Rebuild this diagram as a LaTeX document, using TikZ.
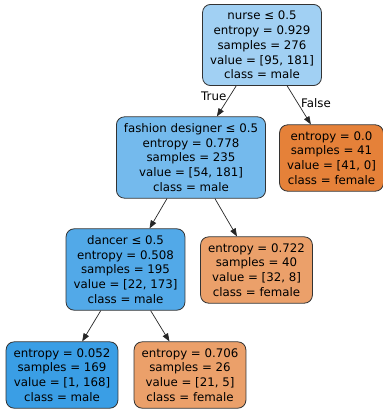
\documentclass[tikz,border=0pt]{standalone}
\usepackage{fontspec}
\setmainfont{DejaVu Sans}
\usetikzlibrary{arrows.meta,positioning}

\definecolor{malehigh}{RGB}{58,158,229}
\definecolor{malemid}{RGB}{82,169,232}
\definecolor{malelow}{RGB}{116,186,237}
\definecolor{malepale}{RGB}{161,208,243}
\definecolor{femalehigh}{RGB}{229,129,57}
\definecolor{femalelow}{RGB}{235,160,106}

\begin{document}
\begin{tikzpicture}[x=1pt,y=-1pt,
    treenode/.style={draw=black!80,line width=0.8pt,rounded corners=8pt,align=center,
      inner xsep=7.5pt,inner ysep=6.5pt,font=\fontsize{11.8}{14.8}\selectfont},
    treeedge/.style={-{Triangle[length=8pt,width=6pt]},black!85,line width=0.7pt},
    edgelabel/.style={text=black,font=\fontsize{11.8}{14.8}\selectfont,inner sep=3pt}]
     \useasboundingbox (0,0) rectangle (383,410);

     \node[treenode,fill=malepale] (nurse) at (262,45) {nurse ≤ 0.5\\entropy = 0.929\\samples = 276\\value = [95, 181]\\class = male};
     \node[treenode,fill=malelow] (fashion) at (191,157.5) {fashion designer ≤ 0.5\\entropy = 0.778\\samples = 235\\value = [54, 181]\\class = male};
     \node[treenode,fill=femalehigh] (leafa) at (331.5,158) {entropy = 0.0\\samples = 41\\value = [41, 0]\\class = female};

     \node[treenode,fill=malemid] (dancer) at (125.5,269.5) {dancer ≤ 0.5\\entropy = 0.508\\samples = 195\\value = [22, 173]\\class = male};
     \node[treenode,fill=femalelow] (leafb) at (256.5,270) {entropy = 0.722\\samples = 40\\value = [32, 8]\\class = female};

     \node[treenode,fill=malehigh] (leafc) at (62,375) {entropy = 0.052\\samples = 169\\value = [1, 168]\\class = male};
     \node[treenode,fill=femalelow] (leafd) at (190,375) {entropy = 0.706\\samples = 26\\value = [21, 5]\\class = female};

     \draw[treeedge] (nurse) -- (fashion) node[edgelabel,pos=0.34,left] (truelab) {True};
     \draw[treeedge] (nurse) -- (leafa) node[edgelabel,pos=0.45,right] (falselab) {False};
     \draw[treeedge] (fashion) -- (dancer);
     \draw[treeedge] (fashion) -- (leafb);
     \draw[treeedge] (dancer) -- (leafc);
     \draw[treeedge] (dancer) -- (leafd);
\end{tikzpicture}
\end{document}
